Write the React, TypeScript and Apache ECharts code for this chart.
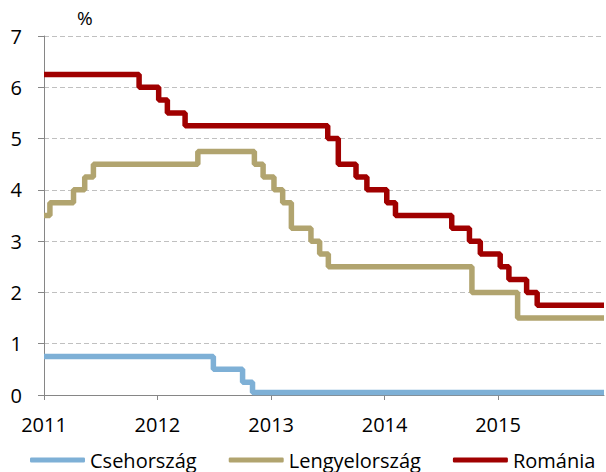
import React, { useEffect, useRef } from "react";
import * as echarts from "echarts";

// Policy rates (%), change points: [date, rate] – each rate holds until the next date
const czechDates = ["2011-01-01", "2012-06-29", "2012-10-01", "2012-11-02", "2015-12-08"];
const czechRates = [0.75, 0.5, 0.25, 0.05, 0.05];

const polandDates = [
  "2011-01-01", "2011-01-20", "2011-04-06", "2011-05-12", "2011-06-09",
  "2012-05-10", "2012-11-08", "2012-12-06", "2013-01-10", "2013-02-07",
  "2013-03-07", "2013-05-09", "2013-06-06", "2013-07-04", "2014-10-09",
  "2015-03-05", "2015-12-08",
];
const polandRates = [
  3.5, 3.75, 4.0, 4.25, 4.5,
  4.75, 4.5, 4.25, 4.0, 3.75,
  3.25, 3.0, 2.75, 2.5, 2.0,
  1.5, 1.5,
];

const romaniaDates = [
  "2011-01-01", "2011-11-03", "2012-01-05", "2012-02-02", "2012-03-30",
  "2013-07-02", "2013-08-05", "2013-10-01", "2013-11-05", "2014-01-08",
  "2014-02-05", "2014-08-05", "2014-10-01", "2014-11-05", "2015-01-08",
  "2015-02-05", "2015-04-03", "2015-05-07", "2015-12-08",
];
const romaniaRates = [
  6.25, 6.0, 5.75, 5.5, 5.25,
  5.0, 4.5, 4.25, 4.0, 3.75,
  3.5, 3.25, 3.0, 2.75, 2.5,
  2.25, 2.0, 1.75, 1.75,
];

const seriesNames = ["Csehország", "Lengyelország", "Románia"];
const yearTicks = [2011, 2012, 2013, 2014, 2015];
const xStart = "2011-01-01";
const xEnd = "2015-12-08";

const toMs = (d: string) => {
  const [y, m, day] = d.split("-").map(Number);
  return Date.UTC(y, m - 1, day);
};
const pairs = (dates: string[], vals: number[]) => dates.map((d, i) => [toMs(d), vals[i]]);

const FONT = "Open Sans";

export default function App() {
  const ref = useRef<HTMLDivElement>(null);
  useEffect(() => {
    if (!ref.current) return;
    document.body.style.margin = "0";
    const chart = echarts.init(ref.current, null, { renderer: "svg" });
    const yearMs = yearTicks.map((y) => Date.UTC(y, 0, 1));
    const mk = (name: string, data: number[][], color: string) => ({
      name,
      type: "line",
      step: "end",
      data,
      symbol: "none",
      lineStyle: { color, width: 5.5 },
      itemStyle: { color },
    });
    chart.setOption({
      animation: false,
      textStyle: { fontFamily: FONT },
      grid: { left: 44, right: 2, top: 36, bottom: 77 },
      xAxis: {
        type: "value",
        min: toMs(xStart),
        max: toMs(xEnd),
        axisLine: { show: true, onZero: false, lineStyle: { color: "#868686", width: 1 } },
        axisTick: { show: true, length: 5, lineStyle: { color: "#868686" }, customValues: yearMs },
        axisLabel: {
          customValues: yearMs,
          formatter: (v: number) => String(new Date(v).getUTCFullYear()),
          color: "#000",
          fontSize: 20,
          fontFamily: FONT,
          margin: 19,
        },
        splitLine: { show: false },
      },
      yAxis: {
        type: "value",
        min: 0,
        max: 7,
        interval: 1,
        axisLine: { show: true, lineStyle: { color: "#868686", width: 1 } },
        axisTick: { show: true, length: 6, lineStyle: { color: "#868686" } },
        axisLabel: { color: "#000", fontSize: 20, fontFamily: FONT, margin: 22 },
        splitLine: { show: true, lineStyle: { color: "#C0C0C0", type: [5, 3], width: 1 } },
      },
      legend: {
        data: seriesNames,
        left: 30,
        bottom: 2,
        padding: 0,
        icon: "roundRect",
        itemWidth: 55,
        itemHeight: 5,
        itemGap: 32,
        textStyle: { color: "#000", fontSize: 20, lineHeight: 20, fontFamily: FONT },
      },
      graphic: [
        {
          type: "text",
          left: 77,
          top: 8,
          style: { text: "%", fontSize: 19, fontFamily: FONT, fill: "#000" },
        },
      ],
      series: [
        mk(seriesNames[0], pairs(czechDates, czechRates), "#7EB0D6"),
        mk(seriesNames[1], pairs(polandDates, polandRates), "#B1A46F"),
        mk(seriesNames[2], pairs(romaniaDates, romaniaRates), "#A00000"),
      ],
    });
    return () => chart.dispose();
  }, []);
  return <div ref={ref} style={{ width: 606, height: 472 }} />;
}
